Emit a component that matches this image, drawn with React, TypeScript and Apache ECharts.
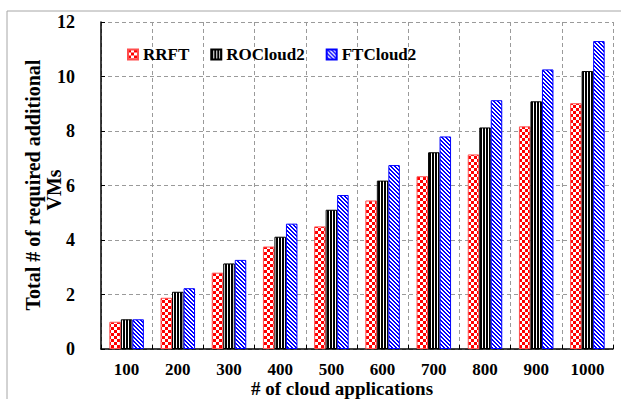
import React, { useEffect, useRef } from 'react';
import * as echarts from 'echarts';

const categories = ['100', '200', '300', '400', '500', '600', '700', '800', '900', '1000'];
const seriesNames = ['RRFT', 'ROCloud2', 'FTCloud2'];
const rrft = [1.0, 1.88, 2.8, 3.76, 4.5, 5.45, 6.34, 7.14, 8.17, 9.02];
const rocloud2 = [1.09, 2.1, 3.14, 4.12, 5.11, 6.18, 7.22, 8.13, 9.09, 10.2];
const ftcloud2 = [1.09, 2.23, 3.27, 4.6, 5.65, 6.75, 7.8, 9.13, 10.26, 11.3];
const yTicks = [0, 2, 4, 6, 8, 10, 12];
const xTitle = '# of cloud applications';
const yTitleLine1 = 'Total # of required additional';
const yTitleLine2 = 'VMs';

const FONT = "'Times New Roman', 'Liberation Serif', serif";

function makeCanvas(w: number, h: number, draw: (ctx: CanvasRenderingContext2D) => void) {
  const c = document.createElement('canvas');
  c.width = w;
  c.height = h;
  const ctx = c.getContext('2d') as CanvasRenderingContext2D;
  draw(ctx);
  return c;
}

export default function App() {
  const ref = useRef<HTMLDivElement>(null);
  useEffect(() => {
    if (!ref.current) return;
    const chart = echarts.init(ref.current, undefined, { renderer: 'svg' });

    const checker = makeCanvas(6, 6, (ctx) => {
      ctx.fillStyle = '#ffffff';
      ctx.fillRect(0, 0, 6, 6);
      ctx.fillStyle = '#ff0000';
      ctx.fillRect(0, 0, 3, 3);
      ctx.fillRect(3, 3, 3, 3);
    });
    const vstripes = makeCanvas(3, 3, (ctx) => {
      ctx.fillStyle = '#ffffff';
      ctx.fillRect(0, 0, 3, 3);
      ctx.fillStyle = '#000000';
      ctx.fillRect(0, 0, 2, 3);
    });
    const diag = makeCanvas(4, 4, (ctx) => {
      ctx.fillStyle = '#ffffff';
      ctx.fillRect(0, 0, 4, 4);
      ctx.fillStyle = '#0000ff';
      for (let y = 0; y < 4; y++) {
        ctx.fillRect(y % 4, y, 1, 1);
        ctx.fillRect((y + 1) % 4, y, 1, 1);
      }
    });

    const patterns = [
      { image: checker, repeat: 'repeat' },
      { image: vstripes, repeat: 'repeat' },
      { image: diag, repeat: 'repeat' },
    ];
    const borders = ['#ff4d4d', '#000000', '#0000ff'];
    const data = [rrft, rocloud2, ftcloud2];

    chart.setOption({
      animation: false,
      backgroundColor: '#ffffff',
      grid: { left: 101, right: 8, top: 22, bottom: 50, containLabel: false },
      legend: {
        data: seriesNames,
        left: 127,
        top: 46,
        itemWidth: 10,
        itemHeight: 10,
        itemGap: 21,
        padding: 0,
        icon: 'rect',
        textStyle: { fontFamily: FONT, fontWeight: 'bold', fontSize: 17, color: '#000' },
      },
      xAxis: {
        type: 'category',
        data: categories,
        boundaryGap: true,
        axisLine: { show: true, lineStyle: { color: '#000', width: 1.5 } },
        axisTick: { show: true, inside: true, length: 4, lineStyle: { color: '#000' } },
        axisLabel: {
          fontFamily: FONT,
          fontWeight: 'bold',
          fontSize: 17,
          lineHeight: 15,
          color: '#000',
          margin: 13,
        },
        splitLine: { show: true, lineStyle: { color: '#9a9a9a', type: [4, 3], width: 1 } },
      },
      yAxis: {
        type: 'value',
        min: yTicks[0],
        max: yTicks[yTicks.length - 1],
        interval: 2,
        axisLine: { show: true, lineStyle: { color: '#000', width: 1.5 } },
        axisTick: { show: true, inside: true, length: 4, lineStyle: { color: '#000' } },
        axisLabel: {
          fontFamily: FONT,
          fontWeight: 'bold',
          fontSize: 18,
          color: '#000',
          margin: 26,
        },
        splitLine: { show: true, lineStyle: { color: '#9a9a9a', type: [4, 3], width: 1 } },
      },
      series: seriesNames.map((name, i) => ({
        name,
        type: 'bar',
        data: data[i],
        barWidth: 11.5,
        barGap: '0%',
        itemStyle: {
          color: patterns[i],
          borderColor: borders[i],
          borderWidth: 1,
        },
      })),
      graphic: [
        {
          type: 'line',
          shape: { x1: 7, y1: 11, x2: 621, y2: 11 },
          style: { stroke: '#a6a6a6', lineWidth: 1 },
          silent: true,
        },
        {
          type: 'line',
          shape: { x1: 7, y1: 11, x2: 7, y2: 399 },
          style: { stroke: '#a6a6a6', lineWidth: 1 },
          silent: true,
        },
        {
          type: 'text',
          x: 342,
          y: 388,
          style: {
            text: xTitle,
            fontFamily: FONT,
            fontWeight: 'bold',
            fontSize: 19,
            lineHeight: 17,
            fill: '#000',
            align: 'center',
            verticalAlign: 'middle',
          },
        },
        {
          type: 'text',
          x: 33,
          y: 185,
          rotation: Math.PI / 2,
          style: {
            text: yTitleLine1,
            fontFamily: FONT,
            fontWeight: 'bold',
            fontSize: 20,
            fill: '#000',
            align: 'center',
            verticalAlign: 'middle',
          },
        },
        {
          type: 'text',
          x: 54,
          y: 190,
          rotation: Math.PI / 2,
          style: {
            text: yTitleLine2,
            fontFamily: FONT,
            fontWeight: 'bold',
            fontSize: 20,
            fill: '#000',
            align: 'center',
            verticalAlign: 'middle',
          },
        },
      ],
    });
    return () => chart.dispose();
  }, []);
  return (
    <div
      ref={ref}
      style={{ position: 'fixed', left: 0, top: 0, width: 621, height: 399 }}
    />
  );
}
